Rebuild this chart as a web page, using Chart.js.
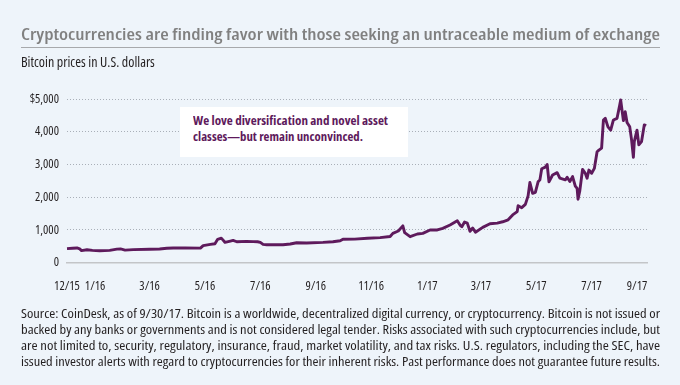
<!DOCTYPE html>
<html>
<head>
<meta charset="utf-8">
<script src="https://cdn.jsdelivr.net/npm/chart.js@4.4.1/dist/chart.umd.min.js"></script>
<style>
  body { margin: 0; background: #eef4fa; }
  #wrap { position: relative; width: 680px; height: 385px; overflow: hidden; background: #eef4fa;
          font-family: "Open Sans", sans-serif; font-stretch: condensed; color: #231f20; }
  #c { position: absolute; left: 0; top: 0; }
  .fit { position: absolute; white-space: nowrap; transform-origin: 0 0; }
  #title { left: 21px; top: 26px; font-size: 16px; line-height: 16px; font-weight: 600; color: #808080;
           font-stretch: 87.5%; }
  #rule { position: absolute; left: 21px; top: 47px; width: 639px; height: 1px; background: #a7a9ac; }
  #sub { left: 21px; top: 54.5px; font-size: 14px; line-height: 14px; }
  #note { position: absolute; left: 180px; top: 107px; width: 228px; height: 50px; background: #fff; }
  #note .fit { left: 13px; font-size: 12.5px; line-height: 12px; font-weight: bold; color: #5e1a5c; }
  .foot { left: 21px; font-size: 13px; line-height: 16px; }
</style>
</head>
<body>
<div id="wrap">
  <canvas id="c" width="680" height="385"></canvas>
  <div id="title" class="fit" data-w="639">Cryptocurrencies are finding favor with those seeking an untraceable medium of exchange</div>
  <div id="rule"></div>
  <div id="sub" class="fit">Bitcoin prices in U.S. dollars</div>
  <div id="note">
    <div class="fit" style="top:8px" data-w="195">We love diversification and novel asset</div>
    <div class="fit" style="top:24px" data-w="170">classes—but remain unconvinced.</div>
  </div>
  <div class="fit foot" style="top:305px" data-w="639">Source: CoinDesk, as of 9/30/17. Bitcoin is a worldwide, decentralized digital currency, or cryptocurrency. Bitcoin is not issued or</div>
  <div class="fit foot" style="top:321px" data-w="639">backed by any banks or governments and is not considered legal tender. Risks associated with such cryptocurrencies include, but</div>
  <div class="fit foot" style="top:337px" data-w="639">are not limited to, security, regulatory, insurance, fraud, market volatility, and tax risks. U.S. regulators, including the SEC, have</div>
  <div class="fit foot" style="top:353px" data-w="639">issued investor alerts with regard to cryptocurrencies for their inherent risks. Past performance does not guarantee future results.</div>
</div>
<script>
// bitcoin price (USD)
const dates = [
  '2016-01-01','2016-01-07','2016-01-12','2016-01-15','2016-01-17','2016-01-23','2016-01-29','2016-02-06',
  '2016-02-17','2016-02-25','2016-02-29','2016-03-05','2016-03-14','2016-04-01','2016-04-12','2016-04-20',
  '2016-04-27','2016-05-10','2016-05-27','2016-05-30','2016-06-07','2016-06-12','2016-06-15','2016-06-19',
  '2016-06-21','2016-06-23','2016-06-29','2016-07-02','2016-07-06','2016-07-17','2016-07-24','2016-07-29',
  '2016-08-01','2016-08-04','2016-08-08','2016-08-26','2016-09-03','2016-09-10','2016-09-21','2016-10-09',
  '2016-10-20','2016-10-28','2016-10-31','2016-11-13','2016-11-27','2016-12-11','2016-12-22','2016-12-25',
  '2016-12-31','2017-01-05','2017-01-07','2017-01-13','2017-01-21','2017-01-27','2017-02-04','2017-02-12',
  '2017-02-18','2017-02-26','2017-03-06','2017-03-09','2017-03-11','2017-03-14','2017-03-17','2017-03-20',
  '2017-03-23','2017-03-26','2017-04-03','2017-04-11','2017-04-19','2017-04-25','2017-05-01','2017-05-06',
  '2017-05-11','2017-05-12','2017-05-16','2017-05-20','2017-05-23','2017-05-25','2017-05-28','2017-05-31',
  '2017-06-03','2017-06-05','2017-06-07','2017-06-11','2017-06-13','2017-06-15','2017-06-19','2017-06-24',
  '2017-06-27','2017-07-03','2017-07-05','2017-07-08','2017-07-11','2017-07-14','2017-07-16','2017-07-17',
  '2017-07-19','2017-07-22','2017-07-25','2017-07-27','2017-07-29','2017-08-01','2017-08-04','2017-08-07',
  '2017-08-09','2017-08-12','2017-08-14','2017-08-16','2017-08-19','2017-08-22','2017-08-25','2017-08-29',
  '2017-09-01','2017-09-02','2017-09-05','2017-09-07','2017-09-09','2017-09-12','2017-09-14','2017-09-16',
  '2017-09-17','2017-09-20','2017-09-22','2017-09-25','2017-09-28','2017-09-30'
];
const prices = [
  430, 440, 450, 420, 370, 395, 375, 365,
  375, 415, 420, 385, 400, 410, 420, 440,
  450, 450, 445, 520, 560, 580, 715, 750,
  690, 620, 660, 680, 640, 650, 645, 640,
  620, 560, 550, 550, 570, 610, 600, 620,
  640, 670, 715, 720, 745, 765, 800, 897,
  968, 1125, 917, 795, 877, 897, 1000, 1000,
  1050, 1150, 1280, 1150, 1100, 1240, 1210, 960,
  1060, 930, 1080, 1190, 1210, 1250, 1310, 1460,
  1560, 1740, 1680, 1780, 2040, 2450, 2120, 2150,
  2470, 2530, 2870, 2920, 3000, 2470, 2680, 2750,
  2580, 2530, 2610, 2480, 2630, 2340, 2270, 1940,
  2200, 2850, 2730, 2580, 2830, 2730, 2880, 3390,
  3440, 3500, 4360, 4410, 4150, 4050, 4360, 4410,
  4820, 4970, 4340, 4610, 4280, 4150, 3750, 3220,
  3700, 4050, 3600, 3700, 4210, 4180
];

// x axis labels and the dates they sit on
const tickLabels = ['12/15', '1/16', '3/16', '5/16', '7/16', '9/16', '11/16', '1/17', '3/17', '5/17', '7/17', '9/17'];
const tickDates = ['2016-01-01', '2016-02-01', '2016-04-01', '2016-06-01', '2016-08-01', '2016-10-01',
                   '2016-12-01', '2017-02-01', '2017-04-01', '2017-06-01', '2017-08-01', '2017-09-20'];
const yTicks = [0, 1000, 2000, 3000, 4000, 5000];

const t0 = Date.parse('2016-01-01');
function day(d) { return Math.round((Date.parse(d) - t0) / 864e5); }

const points = dates.map((d, i) => ({ x: day(d), y: prices[i] }));
const tickDays = tickDates.map(day);

const font = { family: '"Open Sans"', weight: 'normal condensed', size: 12.5 };

new Chart(document.getElementById('c'), {
  type: 'line',
  data: {
    datasets: [{
      data: points,
      borderColor: '#5e1a5c',
      borderWidth: 2.9,
      pointRadius: 0,
      tension: 0,
      borderJoinStyle: 'round',
      clip: false
    }]
  },
  options: {
    responsive: false,
    animation: false,
    events: [],
    layout: { padding: { top: 99, right: 33, left: 0, bottom: 0 } },
    plugins: { legend: { display: false }, tooltip: { enabled: false } },
    scales: {
      x: {
        type: 'linear',
        min: 0,
        max: day('2017-10-01'),
        afterBuildTicks: s => { s.ticks = tickDays.map(v => ({ value: v })); },
        afterFit: s => { s.height = 385 - 262.7; },
        grid: { display: false },
        border: { display: true, color: '#c3c5c8', width: 1.5 },
        ticks: {
          autoSkip: false, maxRotation: 0, padding: 8,
          color: '#231f20', font: font,
          callback: (v) => tickLabels[tickDays.indexOf(v)]
        }
      },
      y: {
        min: 0,
        max: 5000,
        afterBuildTicks: s => { s.ticks = yTicks.map(v => ({ value: v })); },
        afterFit: s => { s.width = 67; },
        grid: { color: c => c.tick && c.tick.value === 0 ? 'rgba(0,0,0,0)' : '#a9afb8', drawTicks: false, lineWidth: 1 },
        border: { display: false, dash: [1, 2] },
        ticks: {
          padding: 8, color: '#231f20', font: font,
          callback: v => v === 5000 ? '$5,000' : v.toLocaleString('en-US')
        }
      }
    }
  }
});

// squeeze each text line to the width it has in the picture
document.fonts.ready.then(() => {
  document.querySelectorAll('.fit[data-w]').forEach(el => {
    const w = el.getBoundingClientRect().width;
    el.style.transform = 'scaleX(' + (el.dataset.w / w) + ')';
  });
});
</script>
</body>
</html>
